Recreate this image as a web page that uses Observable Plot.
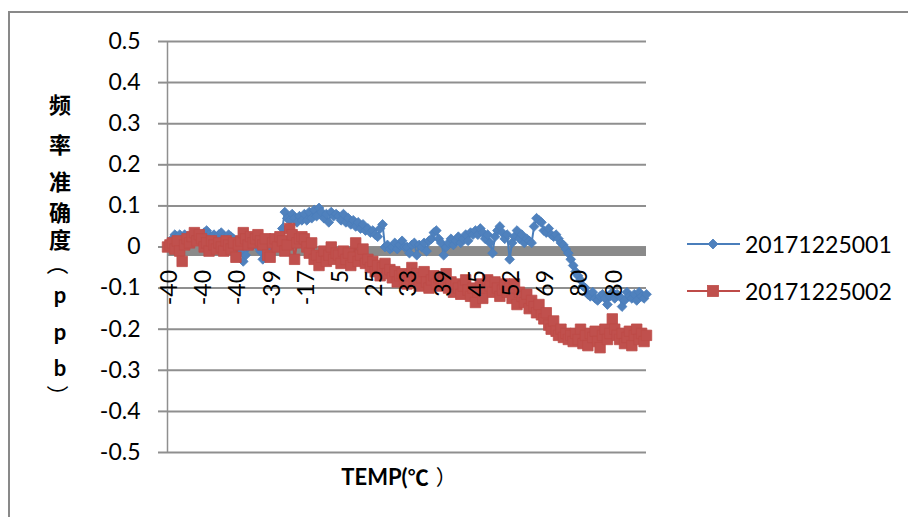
<!DOCTYPE html>
<html><head><meta charset="utf-8">
<script src="https://cdn.jsdelivr.net/npm/d3@7"></script>
<script src="https://cdn.jsdelivr.net/npm/@observablehq/plot@0.6"></script>
<style>
html,body{margin:0;padding:0;background:#fff;}
#wrap{position:relative;width:908px;height:517px;overflow:hidden;font-family:Lato,"Noto Sans CJK SC",sans-serif;color:#000;}
#frame{position:absolute;left:8px;top:11px;width:960px;height:560px;border-top:2px solid #898989;border-left:2px solid #898989;}
#chart{position:absolute;left:0;top:0;}
#ylabel span{position:absolute;left:60px;transform:translate(-50%,-50%);font-weight:700;font-size:22px;line-height:1;font-family:Lato,"Noto Sans CJK SC",sans-serif;}
#ylabel span.rot{transform:translate(-50%,-50%) rotate(90deg);font-family:"Noto Sans CJK SC","Noto Sans CJK JP",sans-serif;font-weight:400;}
#xtitle{position:absolute;left:399px;top:476px;transform:translate(-50%,-50%);font-weight:700;font-size:22px;white-space:nowrap;font-family:Lato,"Noto Sans CJK SC",sans-serif;}
#xtitle .cjk{font-family:"Noto Sans CJK SC","Noto Sans CJK JP",sans-serif;font-weight:700;font-size:21px;}
#xtitle .close{margin-left:7px;font-weight:400;}
.leg{position:absolute;left:687px;height:30px;display:flex;align-items:center;transform:translateY(-50%);}
.leg span{font-size:23px;margin-left:4px;font-family:Lato,sans-serif;}
</style>
</head><body>
<div id="wrap">
  <div id="frame"></div>
  <div id="chart"></div>
  <div id="ylabel"></div>
  <div id="xtitle"></div>
  <div id="legend"></div>
</div>
<script>
// ---- data ----
const seriesNames = ["20171225001", "20171225002"];
const xTickLabels = ["-40","-40","-40","-39","-17","5","25","33","39","45","52","69","80","80"];
const labelEvery = 14;
const yTicks = [0.5,0.4,0.3,0.2,0.1,0,-0.1,-0.2,-0.3,-0.4,-0.5];
const yTitle = "频率准确度（ppb）";
const xTitleLatin = "TEMP(";
const xTitleDeg = "℃";
const xTitleClose = "）";

const blueValues = [
  0.0, 0.01, 0.02, 0.03, 0.025, 0.03, 0.02, 0.03, 0.025, 0.02, 0.015, 0.025, 0.02, 0.03,
  0.03, 0.035, 0.04, 0.03, 0.025, 0.03, 0.02, 0.03, 0.035, 0.025, 0.02, 0.03, 0.025, 0.02,
  0.015, 0.01, -0.01, -0.035, -0.02, 0.0, 0.01, 0.005, 0.01, 0.0, -0.01, -0.03, -0.025, -0.015,
  -0.01, 0.0, 0.005, 0.01, 0.02, 0.045, 0.085, 0.07, 0.065, 0.08, 0.07, 0.06, 0.075, 0.065,
  0.08, 0.065, 0.085, 0.07, 0.09, 0.075, 0.095, 0.085, 0.07, 0.08, 0.06, 0.085, 0.075, 0.08,
  0.075, 0.065, 0.08, 0.06, 0.07, 0.055, 0.065, 0.05, 0.06, 0.045, 0.055, 0.04, 0.045, 0.035,
  0.04, 0.03, 0.025, 0.045, 0.055, 0.0, 0.005, -0.005, 0.0, 0.01, -0.005, 0.005, 0.015, 0.0,
  0.0, -0.015, 0.005, 0.01, -0.02, 0.005, 0.0, 0.01, -0.01, 0.015, 0.02, 0.035, 0.04, 0.02,
  0.01, -0.02, 0.0, 0.01, 0.02, 0.005, 0.015, 0.025, 0.01, 0.02, 0.03, 0.015, 0.035, 0.03,
  0.04, 0.03, 0.045, 0.035, 0.02, 0.03, 0.01, -0.015, 0.025, 0.04, 0.05, 0.035, 0.02, 0.03,
  -0.03, 0.01, 0.025, 0.04, 0.02, 0.03, 0.01, 0.02, 0.015, 0.01, 0.05, 0.07, 0.065, 0.06,
  0.04, 0.035, 0.045, 0.03, 0.025, 0.03, 0.02, 0.01, 0.005, -0.005, -0.015, -0.03, -0.045, -0.06,
  -0.07, -0.08, -0.095, -0.1, -0.115, -0.12, -0.11, -0.125, -0.13, -0.12, -0.115, -0.125, -0.14, -0.12,
  -0.11, -0.125, -0.115, -0.12, -0.145, -0.13, -0.11, -0.12, -0.125, -0.115, -0.13, -0.11, -0.12, -0.125,
  -0.115
];

const redValues = [
  0.0, 0.005, 0.01, -0.005, 0.015, -0.01, -0.035, 0.005, 0.02, 0.01, 0.025, 0.035, 0.015, 0.03,
  0.02, 0.0, 0.01, -0.01, 0.015, 0.005, -0.005, 0.01, 0.0, -0.01, 0.015, 0.005, -0.005, 0.01,
  -0.025, 0.005, 0.015, 0.035, 0.02, 0.005, 0.025, 0.01, 0.02, 0.03, 0.015, 0.005, 0.02, -0.02,
  -0.025, 0.01, 0.02, 0.0, 0.025, 0.015, -0.01, 0.005, 0.045, 0.03, -0.03, 0.01, 0.02, 0.025,
  0.02, 0.0, -0.015, 0.01, -0.03, -0.02, -0.045, -0.025, -0.01, -0.035, -0.02, 0.0, -0.03, -0.015,
  -0.02, -0.04, -0.01, -0.03, -0.015, -0.045, -0.025, 0.01, -0.035, -0.02, -0.005, -0.04, -0.03, -0.05,
  -0.035, -0.06, -0.045, -0.07, -0.05, -0.04, -0.065, -0.055, -0.075, -0.06, -0.085, -0.07, -0.065, -0.08,
  -0.09, -0.07, -0.05, -0.08, -0.065, -0.095, -0.075, -0.06, -0.085, -0.1, -0.08, -0.07, -0.09, -0.075,
  -0.095, -0.08, -0.065, -0.1, -0.085, -0.11, -0.09, -0.1, -0.115, -0.095, -0.08, -0.105, -0.12, -0.1,
  -0.135, -0.11, -0.09, -0.125, -0.1, -0.08, -0.095, -0.11, -0.085, -0.1, -0.12, -0.105, -0.09, -0.11,
  -0.1, -0.125, -0.09, -0.14, -0.11, -0.12, -0.135, -0.115, -0.15, -0.13, -0.145, -0.16, -0.14, -0.165,
  -0.175, -0.16, -0.19, -0.2, -0.18, -0.205, -0.215, -0.2, -0.22, -0.21, -0.225, -0.215, -0.23, -0.21,
  -0.225, -0.2, -0.235, -0.215, -0.24, -0.21, -0.22, -0.205, -0.23, -0.245, -0.215, -0.2, -0.225, -0.21,
  -0.175, -0.2, -0.215, -0.225, -0.21, -0.235, -0.22, -0.205, -0.24, -0.215, -0.2, -0.225, -0.21, -0.23,
  -0.215
];

// ---- styles ----
const blueLine = "#4A7EBB", blueFill = "#4F81BD";
const redLine = "#BE4B48", redFill = "#C0504D";
const gridColor = "#8f8f8f";

const blueData = blueValues.map((v, i) => ({i, v}));
const redData = redValues.map((v, i) => ({i, v}));
const N = blueValues.length;
const fmt = d => d === 0 ? "0" : d.toFixed(1);

const chart = Plot.plot({
  width: 908,
  height: 517,
  marginLeft: 167,
  marginRight: 262,
  marginTop: 41,
  marginBottom: 65,
  style: {background: "transparent", fontFamily: "Lato, 'Noto Sans CJK SC', sans-serif", overflow: "visible"},
  x: {domain: [0, N - 1], axis: null},
  y: {domain: [-0.5, 0.5]},
  marks: [
    Plot.ruleY(yTicks, {stroke: gridColor, strokeWidth: 2}),
    Plot.axisY(yTicks, {anchor: "left", tickSize: 9, tickPadding: 18, tickFormat: fmt, fontSize: 23, stroke: gridColor, strokeWidth: 2, label: null, fill: "#000"}),
    Plot.ruleY([0], {stroke: "#8a8a8a", strokeWidth: 9, dy: 4.5}),
    Plot.ruleX([0], {y1: -0.5, y2: 0.5, stroke: gridColor, strokeWidth: 1.5}),
    Plot.line(blueData, {x: "i", y: "v", stroke: blueLine, strokeWidth: 2}),
    Plot.dot(blueData, {x: "i", y: "v", symbol: "diamond2", r: 4.4, fill: blueFill, stroke: blueLine, strokeWidth: 0.8}),
    Plot.line(redData, {x: "i", y: "v", stroke: redLine, strokeWidth: 2}),
    Plot.dot(redData, {x: "i", y: "v", symbol: "square", r: 5.9, fill: redFill, stroke: redLine, strokeWidth: 0.8}),
    Plot.text(xTickLabels, {x: (d, j) => j * labelEvery, y: () => 0, text: d => d, rotate: -90, textAnchor: "end", lineAnchor: "middle", dy: 23, dx: 2, fontSize: 23, fill: "#000"})
  ]
});
document.getElementById("chart").appendChild(chart);

// y title: stacked characters; brackets turned as in vertical text
const yPos = [105, 145, 182, 213, 240, 264, 295, 332, 368, 396];
const yl = document.getElementById("ylabel");
Array.from(yTitle).forEach((ch, k) => {
  const s = document.createElement("span");
  s.textContent = ch;
  if (ch === "（" || ch === "）") s.className = "rot";
  s.style.top = yPos[k] + "px";
  yl.appendChild(s);
});
const xt = document.getElementById("xtitle");
xt.innerHTML = `${xTitleLatin}<span class="cjk">${xTitleDeg}</span><span class="cjk close">${xTitleClose}</span>`;

// legend
const leg = document.getElementById("legend");
const legItems = [
  {name: seriesNames[0], line: blueLine, fill: blueFill, shape: "diamond", top: 244},
  {name: seriesNames[1], line: redLine, fill: redFill, shape: "square", top: 291}
];
legItems.forEach(it => {
  const d = document.createElement("div");
  d.className = "leg";
  d.style.top = it.top + "px";
  const marker = it.shape === "diamond"
    ? `<path d="M26,21 L31,26 L26,31 L21,26 Z" fill="${it.fill}" stroke="${it.line}" stroke-width="0.8"/>`
    : `<rect x="20.5" y="20.5" width="11" height="11" fill="${it.fill}" stroke="${it.line}" stroke-width="0.8"/>`;
  d.innerHTML = `<svg width="54" height="52" viewBox="0 0 54 52"><line x1="0" x2="53" y1="26" y2="26" stroke="${it.line}" stroke-width="2"/>${marker}</svg><span>${it.name}</span>`;
  leg.appendChild(d);
});
</script>
</body></html>
